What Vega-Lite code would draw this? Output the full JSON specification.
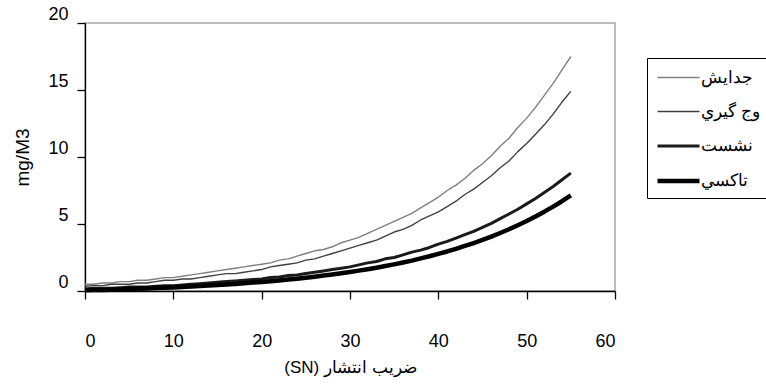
{
  "$schema": "https://vega.github.io/schema/vega-lite/v6.json",
  "autosize": "none",
  "width": 530,
  "height": 268,
  "padding": {"left": 85, "top": 23, "right": 151, "bottom": 98},
  "background": "white",
  "config": {
    "font": "Liberation Sans",
    "view": {"stroke": "#a6a6a6", "strokeWidth": 1.5},
    "axis": {"grid": false, "domainColor": "black", "domainWidth": 1.3, "tickColor": "black", "tickWidth": 1.3, "tickSize": 8, "labelColor": "black", "titleColor": "black", "labelFont": "Liberation Sans", "titleFont": "Liberation Sans", "titleFontWeight": "normal"}
  },
  "data": {"values": [
    {"x":0,"s":"جدايش","y":0.5},{"x":1,"s":"جدايش","y":0.5},{"x":2,"s":"جدايش","y":0.6},{"x":3,"s":"جدايش","y":0.6},{"x":4,"s":"جدايش","y":0.7},{"x":5,"s":"جدايش","y":0.7},{"x":6,"s":"جدايش","y":0.8},{"x":7,"s":"جدايش","y":0.8},{"x":8,"s":"جدايش","y":0.9},{"x":9,"s":"جدايش","y":1.0},{"x":10,"s":"جدايش","y":1.0},{"x":11,"s":"جدايش","y":1.1},{"x":12,"s":"جدايش","y":1.2},{"x":13,"s":"جدايش","y":1.3},{"x":14,"s":"جدايش","y":1.4},{"x":15,"s":"جدايش","y":1.5},{"x":16,"s":"جدايش","y":1.6},{"x":17,"s":"جدايش","y":1.7},{"x":18,"s":"جدايش","y":1.8},{"x":19,"s":"جدايش","y":1.9},{"x":20,"s":"جدايش","y":2.0},{"x":21,"s":"جدايش","y":2.1},{"x":22,"s":"جدايش","y":2.3},{"x":23,"s":"جدايش","y":2.4},{"x":24,"s":"جدايش","y":2.6},{"x":25,"s":"جدايش","y":2.8},{"x":26,"s":"جدايش","y":3.0},{"x":27,"s":"جدايش","y":3.1},{"x":28,"s":"جدايش","y":3.3},{"x":29,"s":"جدايش","y":3.6},{"x":30,"s":"جدايش","y":3.8},{"x":31,"s":"جدايش","y":4.0},{"x":32,"s":"جدايش","y":4.3},{"x":33,"s":"جدايش","y":4.6},{"x":34,"s":"جدايش","y":4.9},{"x":35,"s":"جدايش","y":5.2},{"x":36,"s":"جدايش","y":5.5},{"x":37,"s":"جدايش","y":5.8},{"x":38,"s":"جدايش","y":6.2},{"x":39,"s":"جدايش","y":6.6},{"x":40,"s":"جدايش","y":7.0},{"x":41,"s":"جدايش","y":7.5},{"x":42,"s":"جدايش","y":7.9},{"x":43,"s":"جدايش","y":8.4},{"x":44,"s":"جدايش","y":9.0},{"x":45,"s":"جدايش","y":9.5},{"x":46,"s":"جدايش","y":10.1},{"x":47,"s":"جدايش","y":10.8},{"x":48,"s":"جدايش","y":11.4},{"x":49,"s":"جدايش","y":12.2},{"x":50,"s":"جدايش","y":12.9},{"x":51,"s":"جدايش","y":13.7},{"x":52,"s":"جدايش","y":14.6},{"x":53,"s":"جدايش","y":15.5},{"x":54,"s":"جدايش","y":16.5},{"x":55,"s":"جدايش","y":17.5},
    {"x":0,"s":"وج گيري","y":0.35},{"x":1,"s":"وج گيري","y":0.4},{"x":2,"s":"وج گيري","y":0.4},{"x":3,"s":"وج گيري","y":0.5},{"x":4,"s":"وج گيري","y":0.5},{"x":5,"s":"وج گيري","y":0.5},{"x":6,"s":"وج گيري","y":0.6},{"x":7,"s":"وج گيري","y":0.6},{"x":8,"s":"وج گيري","y":0.7},{"x":9,"s":"وج گيري","y":0.8},{"x":10,"s":"وج گيري","y":0.8},{"x":11,"s":"وج گيري","y":0.9},{"x":12,"s":"وج گيري","y":0.9},{"x":13,"s":"وج گيري","y":1.0},{"x":14,"s":"وج گيري","y":1.1},{"x":15,"s":"وج گيري","y":1.2},{"x":16,"s":"وج گيري","y":1.3},{"x":17,"s":"وج گيري","y":1.3},{"x":18,"s":"وج گيري","y":1.4},{"x":19,"s":"وج گيري","y":1.5},{"x":20,"s":"وج گيري","y":1.6},{"x":21,"s":"وج گيري","y":1.8},{"x":22,"s":"وج گيري","y":1.9},{"x":23,"s":"وج گيري","y":2.0},{"x":24,"s":"وج گيري","y":2.1},{"x":25,"s":"وج گيري","y":2.3},{"x":26,"s":"وج گيري","y":2.4},{"x":27,"s":"وج گيري","y":2.6},{"x":28,"s":"وج گيري","y":2.8},{"x":29,"s":"وج گيري","y":3.0},{"x":30,"s":"وج گيري","y":3.2},{"x":31,"s":"وج گيري","y":3.4},{"x":32,"s":"وج گيري","y":3.6},{"x":33,"s":"وج گيري","y":3.8},{"x":34,"s":"وج گيري","y":4.1},{"x":35,"s":"وج گيري","y":4.4},{"x":36,"s":"وج گيري","y":4.6},{"x":37,"s":"وج گيري","y":4.9},{"x":38,"s":"وج گيري","y":5.3},{"x":39,"s":"وج گيري","y":5.6},{"x":40,"s":"وج گيري","y":5.9},{"x":41,"s":"وج گيري","y":6.3},{"x":42,"s":"وج گيري","y":6.7},{"x":43,"s":"وج گيري","y":7.2},{"x":44,"s":"وج گيري","y":7.6},{"x":45,"s":"وج گيري","y":8.1},{"x":46,"s":"وج گيري","y":8.6},{"x":47,"s":"وج گيري","y":9.2},{"x":48,"s":"وج گيري","y":9.7},{"x":49,"s":"وج گيري","y":10.4},{"x":50,"s":"وج گيري","y":11.0},{"x":51,"s":"وج گيري","y":11.7},{"x":52,"s":"وج گيري","y":12.4},{"x":53,"s":"وج گيري","y":13.2},{"x":54,"s":"وج گيري","y":14.1},{"x":55,"s":"وج گيري","y":14.9},
    {"x":0,"s":"نشست","y":0.15},{"x":1,"s":"نشست","y":0.2},{"x":2,"s":"نشست","y":0.2},{"x":3,"s":"نشست","y":0.2},{"x":4,"s":"نشست","y":0.25},{"x":5,"s":"نشست","y":0.3},{"x":6,"s":"نشست","y":0.3},{"x":7,"s":"نشست","y":0.3},{"x":8,"s":"نشست","y":0.35},{"x":9,"s":"نشست","y":0.4},{"x":10,"s":"نشست","y":0.4},{"x":11,"s":"نشست","y":0.45},{"x":12,"s":"نشست","y":0.5},{"x":13,"s":"نشست","y":0.55},{"x":14,"s":"نشست","y":0.6},{"x":15,"s":"نشست","y":0.65},{"x":16,"s":"نشست","y":0.7},{"x":17,"s":"نشست","y":0.75},{"x":18,"s":"نشست","y":0.8},{"x":19,"s":"نشست","y":0.85},{"x":20,"s":"نشست","y":0.9},{"x":21,"s":"نشست","y":1.0},{"x":22,"s":"نشست","y":1.05},{"x":23,"s":"نشست","y":1.15},{"x":24,"s":"نشست","y":1.2},{"x":25,"s":"نشست","y":1.3},{"x":26,"s":"نشست","y":1.4},{"x":27,"s":"نشست","y":1.5},{"x":28,"s":"نشست","y":1.6},{"x":29,"s":"نشست","y":1.7},{"x":30,"s":"نشست","y":1.8},{"x":31,"s":"نشست","y":1.95},{"x":32,"s":"نشست","y":2.1},{"x":33,"s":"نشست","y":2.2},{"x":34,"s":"نشست","y":2.4},{"x":35,"s":"نشست","y":2.5},{"x":36,"s":"نشست","y":2.7},{"x":37,"s":"نشست","y":2.9},{"x":38,"s":"نشست","y":3.05},{"x":39,"s":"نشست","y":3.25},{"x":40,"s":"نشست","y":3.5},{"x":41,"s":"نشست","y":3.7},{"x":42,"s":"نشست","y":3.95},{"x":43,"s":"نشست","y":4.2},{"x":44,"s":"نشست","y":4.45},{"x":45,"s":"نشست","y":4.75},{"x":46,"s":"نشست","y":5.05},{"x":47,"s":"نشست","y":5.4},{"x":48,"s":"نشست","y":5.75},{"x":49,"s":"نشست","y":6.1},{"x":50,"s":"نشست","y":6.5},{"x":51,"s":"نشست","y":6.9},{"x":52,"s":"نشست","y":7.35},{"x":53,"s":"نشست","y":7.8},{"x":54,"s":"نشست","y":8.3},{"x":55,"s":"نشست","y":8.8},
    {"x":0,"s":"تاكسي","y":0.05},{"x":1,"s":"تاكسي","y":0.07},{"x":2,"s":"تاكسي","y":0.08},{"x":3,"s":"تاكسي","y":0.1},{"x":4,"s":"تاكسي","y":0.12},{"x":5,"s":"تاكسي","y":0.15},{"x":6,"s":"تاكسي","y":0.17},{"x":7,"s":"تاكسي","y":0.19},{"x":8,"s":"تاكسي","y":0.22},{"x":9,"s":"تاكسي","y":0.24},{"x":10,"s":"تاكسي","y":0.27},{"x":11,"s":"تاكسي","y":0.3},{"x":12,"s":"تاكسي","y":0.34},{"x":13,"s":"تاكسي","y":0.37},{"x":14,"s":"تاكسي","y":0.41},{"x":15,"s":"تاكسي","y":0.45},{"x":16,"s":"تاكسي","y":0.49},{"x":17,"s":"تاكسي","y":0.53},{"x":18,"s":"تاكسي","y":0.58},{"x":19,"s":"تاكسي","y":0.63},{"x":20,"s":"تاكسي","y":0.68},{"x":21,"s":"تاكسي","y":0.73},{"x":22,"s":"تاكسي","y":0.79},{"x":23,"s":"تاكسي","y":0.86},{"x":24,"s":"تاكسي","y":0.92},{"x":25,"s":"تاكسي","y":0.99},{"x":26,"s":"تاكسي","y":1.07},{"x":27,"s":"تاكسي","y":1.15},{"x":28,"s":"تاكسي","y":1.23},{"x":29,"s":"تاكسي","y":1.32},{"x":30,"s":"تاكسي","y":1.42},{"x":31,"s":"تاكسي","y":1.52},{"x":32,"s":"تاكسي","y":1.63},{"x":33,"s":"تاكسي","y":1.74},{"x":34,"s":"تاكسي","y":1.86},{"x":35,"s":"تاكسي","y":1.99},{"x":36,"s":"تاكسي","y":2.13},{"x":37,"s":"تاكسي","y":2.27},{"x":38,"s":"تاكسي","y":2.43},{"x":39,"s":"تاكسي","y":2.59},{"x":40,"s":"تاكسي","y":2.77},{"x":41,"s":"تاكسي","y":2.95},{"x":42,"s":"تاكسي","y":3.15},{"x":43,"s":"تاكسي","y":3.36},{"x":44,"s":"تاكسي","y":3.58},{"x":45,"s":"تاكسي","y":3.81},{"x":46,"s":"تاكسي","y":4.06},{"x":47,"s":"تاكسي","y":4.33},{"x":48,"s":"تاكسي","y":4.61},{"x":49,"s":"تاكسي","y":4.91},{"x":50,"s":"تاكسي","y":5.22},{"x":51,"s":"تاكسي","y":5.56},{"x":52,"s":"تاكسي","y":5.92},{"x":53,"s":"تاكسي","y":6.3},{"x":54,"s":"تاكسي","y":6.7},{"x":55,"s":"تاكسي","y":7.13}
  ]},
  "mark": {"type": "line", "interpolate": "linear", "strokeJoin": "round", "strokeCap": "butt"},
  "encoding": {
    "x": {"field": "x", "type": "quantitative", "scale": {"domain": [0, 60], "nice": false, "zero": false},
      "axis": {"values": [0, 10, 20, 30, 40, 50, 60], "labelFontSize": 18, "labelPadding": 33, "title": "\u202bضريب انتشار (SN)\u202c", "titleFontSize": 17, "titlePadding": 9}},
    "y": {"field": "y", "type": "quantitative", "scale": {"domain": [0, 20], "nice": false},
      "axis": {"values": [0, 5, 10, 15, 20], "labelFontSize": 18, "labelBaseline": "middle", "labelOffset": -9, "labelPadding": 9, "title": "mg/M3", "titleFontSize": 19, "titlePadding": 15}},
    "color": {"field": "s", "type": "nominal",
      "scale": {"type": "ordinal", "domain": ["جدايش", "وج گيري", "نشست", "تاكسي"], "range": ["#7f7f7f", "#404040", "#1a1a1a", "#000000"]},
      "legend": {"orient": "none", "legendX": 562, "legendY": 35, "title": null, "strokeColor": "black", "fillColor": "white", "padding": 8, "symbolType": "M-1,0H3", "symbolSize": 441, "labelOffset": 20, "labelFontSize": 17, "labelFont": "Liberation Sans", "labelColor": "black", "rowPadding": 14, "labelExpr": "datum.label + '\u2003\u2003\u2003'"}},
    "strokeWidth": {"field": "s", "type": "nominal",
      "scale": {"type": "ordinal", "domain": ["جدايش", "وج گيري", "نشست", "تاكسي"], "range": [1.4, 1.4, 3, 4.5]},
      "legend": {"orient": "none", "legendX": 562, "legendY": 35, "title": null, "strokeColor": "black", "fillColor": "white", "padding": 8, "symbolType": "M-1,0H3", "symbolSize": 441, "labelOffset": 20, "labelFontSize": 17, "labelFont": "Liberation Sans", "labelColor": "black", "rowPadding": 14, "labelExpr": "datum.label + '\u2003\u2003\u2003'"}}
  }
}
